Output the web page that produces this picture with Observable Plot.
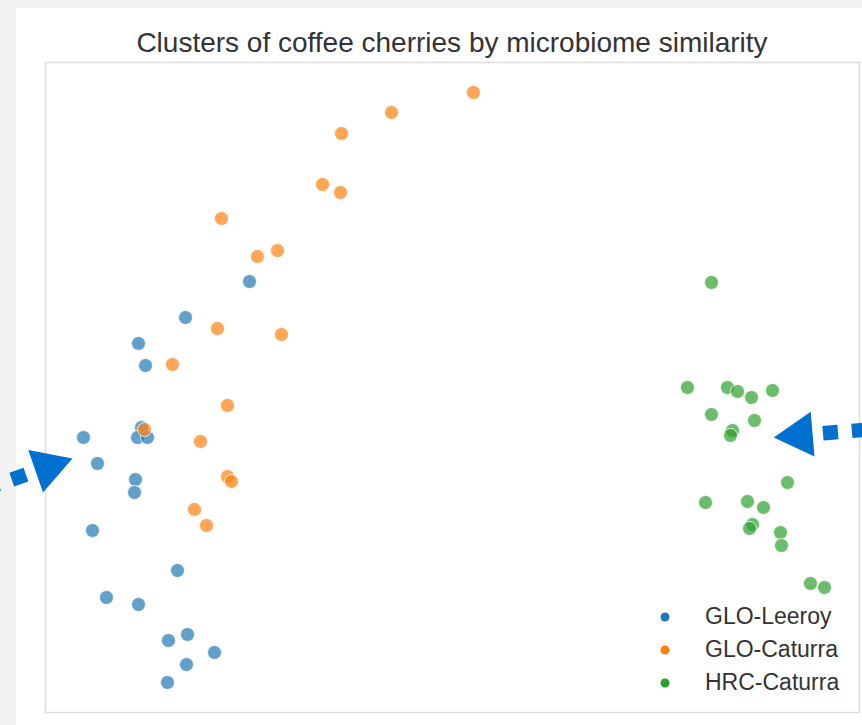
<!DOCTYPE html>
<html>
<head>
<meta charset="utf-8">
<script src="https://cdn.jsdelivr.net/npm/d3@7"></script>
<script src="https://cdn.jsdelivr.net/npm/@observablehq/plot@0.6"></script>
<style>
  html, body { margin: 0; padding: 0; width: 862px; height: 725px; overflow: hidden; background: #f2f2f2; font-family: "Liberation Sans", Arial, sans-serif; }
  #card { position: absolute; left: 16px; top: 8px; right: 0; bottom: 0; background: #ffffff; }
  #title { position: absolute; left: 45px; width: 814px; top: 29px; line-height: 28px; font-size: 28px; color: #333333; text-align: center; white-space: nowrap; }
  #chart { position: absolute; left: 0; top: 60px; }
  #legend { position: absolute; left: 656px; top: 600px; font-size: 23px; color: #333333; }
  .row { display: flex; align-items: center; height: 33px; }
  .row svg { width: 18px; height: 18px; margin-right: 31px; }
</style>
</head>
<body>
<div id="card"></div>
<div id="title">Clusters of coffee cherries by microbiome similarity</div>
<div id="chart"></div>
<div id="legend"></div>
<script>
// Groups (legend order)
const groups = ["GLO-Leeroy", "GLO-Caturra", "HRC-Caturra"];
const groupColors = ["#1f77b4", "#ff7f0e", "#2ca02c"];

// Embedding coordinates [dim1, dim2]
const gloLeeroy = [
  [-20.3, 10.6], [-26.7, 7.0], [-31.4, 4.4], [-30.7, 2.2], [-31.1, -4.0],
  [-36.9, -5.0], [-31.5, -5.0], [-30.5, -5.0], [-35.5, -7.6], [-31.7, -9.2],
  [-31.8, -10.5], [-36.0, -14.3], [-27.5, -18.3], [-34.6, -21.0], [-31.4, -21.7],
  [-28.4, -25.3], [-26.5, -24.7], [-23.8, -26.5], [-26.6, -27.7], [-28.5, -29.5]
];
const gloCaturra = [
  [2.1, 29.5], [-6.1, 27.5], [-11.1, 25.4], [-13.0, 20.3], [-11.2, 19.5],
  [-23.1, 16.9], [-19.5, 13.1], [-17.5, 13.7], [-23.5, 5.9], [-17.1, 5.3],
  [-28.0, 2.3], [-22.5, -1.8], [-30.8, -4.2], [-25.2, -5.4], [-22.5, -8.9],
  [-22.1, -9.4], [-25.8, -12.2], [-24.6, -13.8]
];
const hrcCaturra = [
  [25.9, 10.5], [23.5, 0.0], [27.5, 0.0], [28.5, -0.4], [29.9, -1.0],
  [32.0, -0.3], [25.9, -2.7], [30.2, -3.3], [28.0, -4.3], [27.8, -4.8],
  [33.5, -9.5], [25.3, -11.5], [29.5, -11.4], [31.1, -12.0], [30.0, -13.7],
  [29.7, -14.1], [32.8, -14.5], [32.9, -15.8], [35.8, -19.6], [37.2, -20.0]
];

// Annotation arrows: tail, base of head, tip (data units)
const arrowTails = [[-47.2, -10.3], [44.8, -3.93]];
const arrowBases = [[-41.9, -8.45], [36.25, -4.65]];
const arrowTips  = [[-38.0, -7.1], [32.1, -5.0]];

const xDomain = [-40.7, 40.7];
const yDomain = [-32.5, 32.5];

const points = [
  ...gloLeeroy.map(([x, y]) => ({x, y, group: groups[0]})),
  ...gloCaturra.map(([x, y]) => ({x, y, group: groups[1]})),
  ...hrcCaturra.map(([x, y]) => ({x, y, group: groups[2]}))
];

const arrows = arrowTips.map((tip, i) => {
  const base = arrowBases[i], tail = arrowTails[i];
  const dx = tip[0] - base[0], dy = tip[1] - base[1];
  return {
    x1: base[0], y1: base[1], x2: tail[0], y2: tail[1],
    cx: tip[0] + (base[0] - tip[0]) * 0.63,
    cy: tip[1] + (base[1] - tip[1]) * 0.63,
    angle: Math.atan2(dx, dy) * 180 / Math.PI
  };
});

const arrowColor = "#0070d0";

const plot = Plot.plot({
  width: 862,
  height: 665,
  marginLeft: 45,
  marginRight: 3,
  marginTop: 2,
  marginBottom: 13,
  style: {background: "transparent", overflow: "visible"},
  x: {domain: xDomain, axis: null},
  y: {domain: yDomain, axis: null},
  color: {domain: groups, range: groupColors},
  marks: [
    Plot.frame({stroke: "#dcdcdc", strokeWidth: 1.5}),
    Plot.dot(points, {x: "x", y: "y", fill: "group", r: 7, fillOpacity: 0.7, stroke: "white", strokeWidth: 0.8}),
    Plot.link(arrows, {x1: "x1", y1: "y1", x2: "x2", y2: "y2", stroke: arrowColor, strokeWidth: 14.5,
      strokeDasharray: "15,14", strokeDashoffset: 21, strokeLinecap: "butt", clip: false}),
    Plot.dot(arrows, {x: "cx", y: "cy", symbol: "triangle", r: 16.7, rotate: "angle", fill: arrowColor, stroke: "none"})
  ]
});
document.getElementById("chart").appendChild(plot);

const legend = document.getElementById("legend");
groups.forEach((g, i) => {
  const row = document.createElement("div");
  row.className = "row";
  row.innerHTML = `<svg viewBox="0 0 18 18"><circle cx="9" cy="9" r="4.5" fill="${groupColors[i]}"/></svg><span>${g}</span>`;
  legend.appendChild(row);
});
</script>
</body>
</html>
